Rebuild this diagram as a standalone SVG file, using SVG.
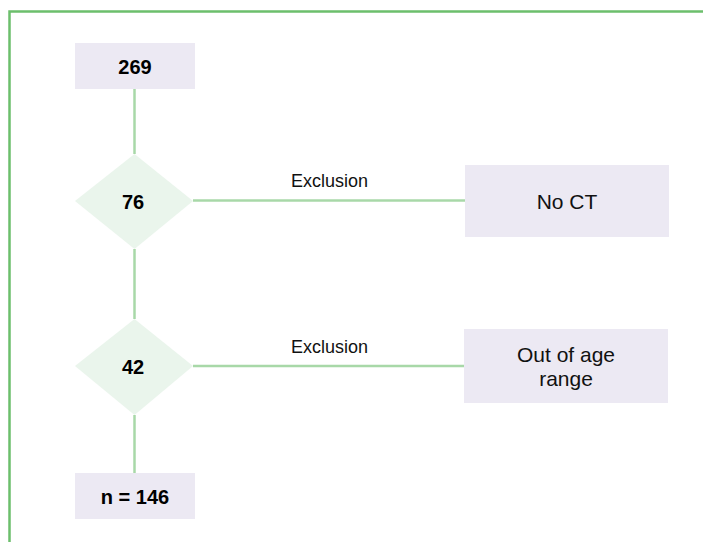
<svg xmlns="http://www.w3.org/2000/svg" width="703" height="542" viewBox="0 0 703 542">
<style>
.box{fill:#ECE9F3;}
.dia{fill:#EAF5EC;}
.edge{stroke:#A8D8A8;stroke-width:2.5;fill:none;}
.frame{stroke:#6CBF6C;stroke-width:2.5;fill:none;}
.b{font-family:"Liberation Sans",Arial,sans-serif;font-weight:bold;font-size:20px;fill:#000;text-anchor:middle;}
.r{font-family:"Liberation Sans",Arial,sans-serif;font-size:21px;fill:#111;text-anchor:middle;}
.lbl{font-family:"Liberation Sans",Arial,sans-serif;font-size:18px;fill:#111;text-anchor:middle;}
</style>
<rect width="703" height="542" fill="#fff"/>
<path class="frame" d="M9.5 560 V11.5 H720"/>
<g id="connectors">
<line class="edge" x1="134.5" y1="89" x2="134.5" y2="154"/>
<line class="edge" x1="134.5" y1="249" x2="134.5" y2="319"/>
<line class="edge" x1="134.5" y1="415" x2="134.5" y2="473"/>
<line class="edge" x1="193" y1="200.5" x2="465" y2="200.5"/>
<text class="lbl" x="329.5" y="187">Exclusion</text>
<line class="edge" x1="193" y1="366" x2="464" y2="366"/>
<text class="lbl" x="329.5" y="353">Exclusion</text>
</g>
<g id="n269">
<rect class="box" x="75" y="43" width="120" height="46"/>
<text class="b" x="135" y="74">269</text>
</g>
<g id="d76">
<polygon class="dia" points="134.5,154 193,201 134.5,249 75,201"/>
<text class="b" x="133" y="209">76</text>
</g>
<g id="noct">
<rect class="box" x="465" y="165" width="204" height="72"/>
<text class="r" x="567" y="209">No CT</text>
</g>
<g id="d42">
<polygon class="dia" points="134.5,319 193,366 134.5,415 75,366"/>
<text class="b" x="133" y="374">42</text>
</g>
<g id="age">
<rect class="box" x="464" y="329" width="204" height="74"/>
<text class="r" x="566" y="362">Out of age</text>
<text class="r" x="566" y="386">range</text>
</g>
<g id="n146">
<rect class="box" x="75" y="473" width="120" height="46"/>
<text class="b" x="135" y="504">n = 146</text>
</g>
</svg>
